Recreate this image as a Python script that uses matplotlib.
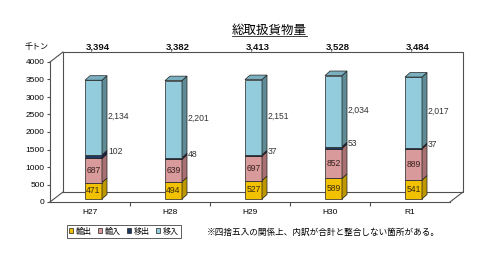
import matplotlib
matplotlib.use('Agg')
import matplotlib.pyplot as plt
from matplotlib.patches import Polygon, Patch

plt.rcParams['font.family'] = ['Liberation Sans', 'Noto Sans CJK JP', 'DejaVu Sans']

# data (千トン)
years = ['H27', 'H28', 'H29', 'H30', 'R1']
series_names = ['輸出', '輸入', '移出', '移入']
exports = [471, 494, 527, 589, 541]
imports = [687, 639, 697, 852, 889]
ship_out = [102, 48, 37, 53, 37]
ship_in = [2134, 2201, 2151, 2034, 2017]
totals = [3394, 3382, 3413, 3528, 3484]

front_cols = ['#F2C200', '#D89A9A', '#1F3960', '#93CDDD']
side_cols = ['#BE9800', '#A87070', '#14264A', '#5F8B95']
top_col = '#7AAFBF'
label_cols = ['#3a2a10', '#3a2020', '#333333', '#333333']

fig = plt.figure(figsize=(4.8, 2.7), dpi=100)
# axes = front plane of the 3D box, in pixels: x 50..450, y 202..62
ax = fig.add_axes([50 / 480, (270 - 202) / 270, 400 / 480, 140 / 270])
ax.set_xlim(0, 5)
ax.set_ylim(0, 4000)
px = 5 / 400          # data units per pixel in x
py = 4000 / 140       # data units per pixel in y

# box depth
wx, wy = 13 * px, 10 * py
line_c = '#505050'
kw = dict(color=line_c, lw=0.8, clip_on=False, zorder=1)
ax.plot([wx, 5 + wx, 5 + wx, wx, wx], [wy, wy, 4000 + wy, 4000 + wy, wy], **kw)
ax.plot([0, wx], [0, wy], **kw)
ax.plot([5, 5 + wx], [0, wy], **kw)
ax.plot([0, wx], [4000, 4000 + wy], **kw)

for s in ['top', 'right']:
    ax.spines[s].set_visible(False)
for s in ['left', 'bottom']:
    ax.spines[s].set_color(line_c)
    ax.spines[s].set_linewidth(0.8)

ax.set_yticks(range(0, 4001, 500))
ax.tick_params(axis='y', labelsize=6, length=2, pad=2, color=line_c)
ax.set_xticks([1, 2, 3, 4])
ax.set_xticklabels([])
ax.tick_params(axis='x', which='major', length=3, color=line_c)
ax.set_xticks([i + 0.5 for i in range(len(years))], minor=True)
ax.set_xticklabels(years, minor=True)
ax.tick_params(axis='x', which='minor', length=0, labelsize=6, pad=5)

# bars: sit part-way into the box depth
bw = 17 * px
bx_off, by_off = 3.5 * px, 3 * py
bdx, bdy = 5 * px, 4.5 * py
centers = [i + 0.5 + bx_off for i in range(len(years))]
stack = [exports, imports, ship_out, ship_in]
bottoms = [by_off] * len(years)
for k, vals in enumerate(stack):
    ax.bar(centers, vals, width=bw, bottom=bottoms, color=front_cols[k],
           edgecolor='#202020', linewidth=0.5, zorder=3)
    for i, v in enumerate(vals):
        x1 = centers[i] + bw / 2
        y0 = bottoms[i]
        ax.add_patch(Polygon([(x1, y0), (x1 + bdx, y0 + bdy), (x1 + bdx, y0 + v + bdy), (x1, y0 + v)],
                             closed=True, facecolor=side_cols[k], edgecolor='#202020', lw=0.5, zorder=3))
        if k < 2:
            ax.text(centers[i], y0 + v / 2, f'{v:,}', ha='center', va='center',
                    fontsize=6.2, color=label_cols[k], zorder=5)
        elif k == 2:
            ax.text(x1 + bdx + 1 * px, y0 + v + 100, f'{v:,}', ha='left', va='center',
                    fontsize=6.2, color=label_cols[k], zorder=5)
        else:
            ax.text(x1 + bdx + 1 * px, y0 + v / 2 + 30, f'{v:,}', ha='left', va='center',
                    fontsize=6.2, color=label_cols[k], zorder=5)
    bottoms = [b + v for b, v in zip(bottoms, vals)]

# top faces
for i, top in enumerate(bottoms):
    x0 = centers[i] - bw / 2
    ax.add_patch(Polygon([(x0, top), (x0 + bdx, top + bdy), (x0 + bw + bdx, top + bdy), (x0 + bw, top)],
                         closed=True, facecolor=top_col, edgecolor='#202020', lw=0.5, zorder=3))

# totals above the box
for i, t in enumerate(totals):
    ax.text(i + 0.5 + 8 * px, 4000 + wy + 5 * py, f'{t:,}', ha='center', va='center',
            fontsize=6.8, fontweight='bold', color='#111111', clip_on=False)

fig.text(37 / 480, 1 - 47 / 270, '千トン', ha='center', va='center', fontsize=5.8)

title = fig.text(269 / 480, 1 - 31 / 270, '総取扱貨物量', ha='center', va='center', fontsize=9)
fig.canvas.draw()
bb = title.get_window_extent().transformed(fig.transFigure.inverted())
fig.add_artist(plt.Line2D([bb.x0, bb.x1], [bb.y0 + 0.002, bb.y0 + 0.002], color='#222222', lw=0.6))

handles = [Patch(facecolor=c, edgecolor='#202020', lw=0.5) for c in front_cols]
leg = fig.legend(handles, series_names, loc='center', bbox_to_anchor=(124 / 480, 1 - 231.5 / 270),
                 ncol=4, fontsize=5.8, handlelength=0.5, handleheight=0.5, handletextpad=0.3,
                 columnspacing=0.8, borderpad=0.35, fancybox=False, frameon=True)
leg.get_frame().set_edgecolor('#333333')
leg.get_frame().set_linewidth(0.7)

fig.text(207 / 480, 1 - 232 / 270, '※四捨五入の関係上、内訳が合計と整合しない箇所がある。',
         ha='left', va='center', fontsize=6.2)

fig.savefig('out.png', dpi=100, facecolor='white')
